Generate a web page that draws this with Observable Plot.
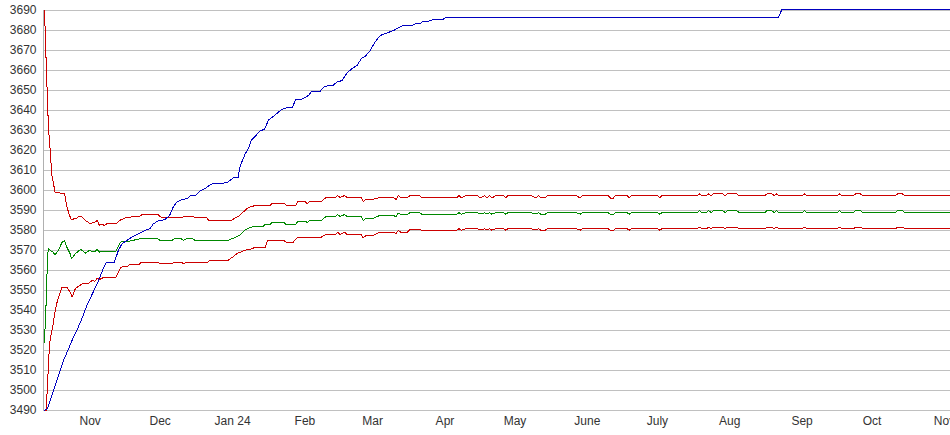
<!DOCTYPE html>
<html>
<head>
<meta charset="utf-8">
<script src="https://cdn.jsdelivr.net/npm/d3@7"></script>
<script src="https://cdn.jsdelivr.net/npm/@observablehq/plot@0.6"></script>
<style>
  html, body { margin: 0; padding: 0; background: #fff; }
  #chart { width: 950px; height: 435px; overflow: hidden; }
</style>
</head>
<body>
<div id="chart"></div>
<script>
// ---------- data ----------
const monthTicks = ["2023-11-01","2023-12-01","2024-01-01","2024-02-01","2024-03-01","2024-04-01","2024-05-01","2024-06-01","2024-07-01","2024-08-01","2024-09-01","2024-10-01","2024-11-01"];
const monthLabels = ["Nov","Dec","Jan 24","Feb","Mar","Apr","May","June","July","Aug","Sep","Oct","Nov"];
const yTicks = [3490,3500,3510,3520,3530,3540,3550,3560,3570,3580,3590,3600,3610,3620,3630,3640,3650,3660,3670,3680,3690];

const blue = [["2023-10-12T07:00",3490],["2023-10-13T04:00",3490.5],["2023-10-13T17:00",3491],["2023-10-14T21:00",3495],["2023-10-16T07:00",3500],["2023-10-18T10:00",3507.5],["2023-10-20T14:00",3515],["2023-10-22T17:00",3520.8],["2023-10-24T20:00",3526.7],["2023-10-26T14:00",3530.8],["2023-10-28T11:00",3536],["2023-10-30T14:00",3542.5],["2023-11-02",3548.5],["2023-11-04T14:00",3555],["2023-11-06T17:00",3561.3],["2023-11-07T22:00",3564],["2023-11-11T07:00",3564],["2023-11-13T02:00",3570],["2023-11-14T14:00",3573.3],["2023-11-16T17:00",3575],["2023-11-18T22:00",3576.7],["2023-11-21",3578],["2023-11-23",3579.2],["2023-11-25",3580.3],["2023-11-26T17:00",3581],["2023-11-28",3583.3],["2023-11-30",3584.7],["2023-12-03",3585.5],["2023-12-05",3587.5],["2023-12-06T14:00",3591.7],["2023-12-08",3594.2],["2023-12-10",3595.3],["2023-12-12T14:00",3596],["2023-12-14",3597.5],["2023-12-16",3597.5],["2023-12-18",3599.7],["2023-12-20",3600.8],["2023-12-22",3602.5],["2023-12-23T17:00",3603.7],["2023-12-28",3603.7],["2023-12-30",3604.2],["2024-01-01T07:00",3606.3],["2024-01-03T10:00",3606.5],["2024-01-03T22:00",3610.8],["2024-01-05T05:00",3615],["2024-01-06T10:00",3618.3],["2024-01-08",3621.5],["2024-01-09",3625],["2024-01-11",3627.5],["2024-01-13",3630],["2024-01-14T17:00",3630.5],["2024-01-16T10:00",3635.3],["2024-01-19",3637.5],["2024-01-21T19:00",3640.3],["2024-01-24",3641.3],["2024-01-26T12:00",3641.3],["2024-01-28",3645.3],["2024-01-31",3645.8],["2024-02-02T12:00",3647.5],["2024-02-04",3649.7],["2024-02-07T14:00",3649.7],["2024-02-09",3651.7],["2024-02-11",3652.5],["2024-02-13",3652.5],["2024-02-14T17:00",3654.2],["2024-02-16T22:00",3655],["2024-02-19",3658.7],["2024-02-21",3660.8],["2024-02-23T07:00",3662.5],["2024-02-25T10:00",3666.3],["2024-02-26T19:00",3667],["2024-02-29",3670],["2024-03-02",3674.2],["2024-03-04T07:00",3677.5],["2024-03-07",3678.7],["2024-03-10",3680],["2024-03-12",3681.3],["2024-03-14",3682.5],["2024-03-18",3682.5],["2024-03-19T07:00",3683.3],["2024-03-21T10:00",3683.3],["2024-03-22T07:00",3684.5],["2024-03-24T19:00",3684.5],["2024-03-26T12:00",3685.3],["2024-03-30T19:00",3685.3],["2024-04-01",3686.3],["2024-08-21T17:00",3686.3],["2024-08-23T07:00",3690.3],["2024-11-04",3690.3]];

const redHiEarly = [["2023-10-12T07:00",3690],["2023-10-12T17:00",3681],["2023-10-13T04:00",3663],["2023-10-13T17:00",3645],["2023-10-14T03:00",3631],["2023-10-14T14:00",3625],["2023-10-14T21:00",3620],["2023-10-15T14:00",3607.5],["2023-10-17",3599],["2023-10-21",3598.5],["2023-10-22",3592],["2023-10-23",3588],["2023-10-24",3585.3],["2023-10-25",3585.8],["2023-10-26",3586],["2023-10-27",3587],["2023-10-28",3587],["2023-10-29",3586.3],["2023-10-30",3585],["2023-10-31",3584.2],["2023-11-01",3583.3],["2023-11-02",3584],["2023-11-03",3584.2],["2023-11-04",3585],["2023-11-05",3582.5],["2023-11-06",3583.3],["2023-11-07",3582.5],["2023-11-08",3583.3],["2023-11-12",3583.3],["2023-11-14",3585.3],["2023-11-16",3586.3],["2023-11-18",3586.3],["2023-11-19",3587],["2023-11-22",3587],["2023-11-23",3587.8],["2023-11-30",3588],["2023-12-01",3587],["2023-12-02",3586.3],["2023-12-10",3586.3],["2023-12-11",3587],["2023-12-15",3587],["2023-12-16",3586.3],["2023-12-21",3586.3],["2023-12-22",3584.8],["2023-12-31",3584.8],["2024-01-01",3585.5],["2024-01-04",3587.5],["2024-01-07",3590.8],["2024-01-09",3592],["2024-01-11",3592.5],["2024-01-17",3592.5],["2024-01-18",3593.7],["2024-01-23",3593.7],["2024-01-24",3592.5],["2024-01-28",3592.5],["2024-01-29",3594.5],["2024-02-01",3594.5],["2024-02-02",3593.5],["2024-02-03",3594.5],["2024-02-08",3594.5],["2024-02-10",3596.5],["2024-02-14",3596.5],["2024-02-15",3597.5],["2024-02-16",3596.5],["2024-02-18",3597.5],["2024-02-19",3596.5],["2024-02-25",3596.5],["2024-02-26",3594.5],["2024-02-27",3595.5],["2024-03-01",3595.5],["2024-03-04",3596.5],["2024-03-10",3596.5],["2024-03-11",3595.5],["2024-03-12",3597.5],["2024-03-13",3596.5],["2024-03-16",3596.5],["2024-03-17",3597.5],["2024-03-21",3597.5]];

const greenEarly = [["2023-10-12T07:00",3524],["2023-10-12T14:00",3529],["2023-10-12T21:00",3537],["2023-10-13T04:00",3545],["2023-10-13T11:00",3557],["2023-10-14",3571],["2023-10-15",3570],["2023-10-16",3569.2],["2023-10-17",3568],["2023-10-18T07:00",3570],["2023-10-20",3574.2],["2023-10-21",3575],["2023-10-22",3571.7],["2023-10-23T10:00",3568.3],["2023-10-24",3565.8],["2023-10-25T14:00",3568.3],["2023-10-27",3569.7],["2023-10-28",3570.5],["2023-10-29",3569.7],["2023-10-30",3568.7],["2023-10-31T14:00",3570],["2023-11-02",3569.5],["2023-11-03",3569.5],["2023-11-04",3570.5],["2023-11-05",3569.2],["2023-11-06",3569.7],["2023-11-12",3569.7],["2023-11-14",3574.2],["2023-11-15",3574.7],["2023-11-18",3574.7],["2023-11-22",3575.8],["2023-11-30",3575.8],["2023-12-01",3575],["2023-12-06",3575],["2023-12-07",3575.8],["2023-12-10",3575.8],["2023-12-11",3575],["2023-12-12",3575.8],["2023-12-15",3575.8],["2023-12-16",3575],["2023-12-30",3575],["2024-01-01",3576],["2024-01-04",3577.5],["2024-01-06",3580],["2024-01-09",3581.7],["2024-01-10",3582],["2024-01-14",3582],["2024-01-15",3583],["2024-01-17",3583],["2024-01-18",3584],["2024-01-23",3584],["2024-01-24",3583],["2024-01-28",3583],["2024-01-29",3584.7],["2024-02-01",3584.7],["2024-02-02",3584],["2024-02-03",3585],["2024-02-08",3585],["2024-02-10",3587],["2024-02-14",3587],["2024-02-15",3588],["2024-02-16",3587],["2024-02-18",3588],["2024-02-19",3587],["2024-02-25",3587],["2024-02-26",3585],["2024-02-27",3586],["2024-03-01",3586],["2024-03-04",3587.5],["2024-03-10",3587.5],["2024-03-11",3586.8],["2024-03-12",3588.7],["2024-03-13",3588],["2024-03-16",3588],["2024-03-17",3589],["2024-03-21",3589]];

const redLoEarly = [["2023-10-12T07:00",3490],["2023-10-13T07:00",3490],["2023-10-13T11:00",3497],["2023-10-14T03:00",3512.5],["2023-10-14T14:00",3523.5],["2023-10-15T07:00",3528.3],["2023-10-16T01:00",3532.5],["2023-10-16T14:00",3536.7],["2023-10-17T11:00",3542.5],["2023-10-18T10:00",3546.7],["2023-10-19T11:00",3550],["2023-10-20",3551.7],["2023-10-22",3551.7],["2023-10-23T10:00",3549.2],["2023-10-24T07:00",3546.7],["2023-10-25T14:00",3550.8],["2023-10-26T21:00",3552],["2023-10-29",3553.7],["2023-10-31",3553.3],["2023-11-02",3555.2],["2023-11-03",3554.5],["2023-11-04",3556.2],["2023-11-05",3555.5],["2023-11-07",3556.7],["2023-11-12",3556.7],["2023-11-14",3561.3],["2023-11-15",3562],["2023-11-17",3562],["2023-11-18",3563],["2023-11-22",3563],["2023-11-23",3564.2],["2023-11-30",3564.2],["2023-12-01",3563.3],["2023-12-06",3563.3],["2023-12-07",3564.2],["2023-12-10",3564.2],["2023-12-11",3563.3],["2023-12-12",3564.2],["2023-12-15",3564.2],["2023-12-16",3563.8],["2023-12-21",3563.8],["2023-12-22",3565],["2023-12-30",3565],["2024-01-01",3566.7],["2024-01-03",3568.5],["2024-01-06",3570],["2024-01-09",3570.8],["2024-01-11",3571.7],["2024-01-15",3571.7],["2024-01-16",3575],["2024-01-23",3575],["2024-01-24",3574.2],["2024-01-27",3574.2],["2024-01-29",3576.7],["2024-02-08",3576.7],["2024-02-10",3578],["2024-02-14",3578],["2024-02-15",3579.2],["2024-02-16",3578],["2024-02-18",3579.2],["2024-02-19",3578],["2024-02-25",3578],["2024-02-26",3576.3],["2024-02-27",3577.3],["2024-03-01",3577.3],["2024-03-04",3579.2],["2024-03-10",3579.2],["2024-03-11",3578.5],["2024-03-12",3580],["2024-03-13",3579.2],["2024-03-16",3579.2],["2024-03-17",3580.5],["2024-03-21",3580.5]];

const lateDates = ["2024-03-22","2024-04-06","2024-04-07","2024-04-08","2024-04-10","2024-04-15","2024-04-16","2024-04-18","2024-04-19","2024-04-20",
  "2024-04-21","2024-04-23","2024-04-26","2024-04-27","2024-04-28","2024-05-08","2024-05-10","2024-05-11","2024-05-12","2024-05-14",
  "2024-05-15","2024-05-27","2024-05-29","2024-05-30","2024-06-10","2024-06-11","2024-06-12","2024-06-13","2024-06-18","2024-06-19",
  "2024-06-20","2024-07-01","2024-07-02","2024-07-03","2024-07-18","2024-07-19","2024-07-20","2024-07-22","2024-07-23","2024-07-24",
  "2024-07-25","2024-07-29","2024-07-30","2024-07-31","2024-08-04","2024-08-05","2024-08-16","2024-08-17","2024-08-19","2024-08-20",
  "2024-08-21","2024-08-22","2024-09-01","2024-09-02","2024-09-03","2024-09-16","2024-09-17","2024-09-18","2024-09-23","2024-09-24",
  "2024-09-26","2024-09-27","2024-10-11","2024-10-12","2024-10-14","2024-10-15","2024-11-04"];
const redHiLate = [3596.3,3596.3,3597.5,3596.3,3597.5,3597.5,3596.3,3597.5,3596.3,3597.5,
  3596.3,3597.5,3597.5,3596.3,3597.5,3597.5,3596.3,3597.5,3596.3,3596.3,
  3597.5,3597.5,3596.3,3597.5,3597.5,3596,3596,3597.5,3597.5,3596.3,
  3597.5,3597.5,3596.3,3597.5,3597.5,3598.3,3597.5,3597.5,3598.3,3597.5,
  3598.3,3598.3,3597.5,3598.3,3598.3,3597.5,3597.5,3598.3,3598.3,3597.5,
  3598.3,3597.5,3597.5,3598.3,3597.5,3597.5,3598.3,3597.5,3597.5,3598.3,
  3598.3,3597.5,3597.5,3598.3,3598.3,3597.5,3597.5];
const greenLate = [3588.2,3588.2,3588.9,3588.2,3588.9,3588.9,3588.2,3588.9,3588.2,3588.9,
  3588.2,3588.9,3588.9,3588.2,3588.9,3588.9,3588.2,3588.9,3588.2,3588.2,
  3588.9,3588.9,3588.2,3588.9,3588.9,3587.8,3587.8,3588.9,3588.9,3588.2,
  3588.9,3588.9,3588.2,3588.9,3588.9,3590,3588.9,3588.9,3590,3588.9,
  3590,3590,3588.9,3590,3590,3588.9,3588.9,3590,3590,3588.9,
  3590,3588.9,3588.9,3590,3588.9,3588.9,3590,3588.9,3588.9,3590,
  3590,3588.9,3588.9,3590,3590,3588.9,3588.9];
const redLoLate = [3580.2,3580.2,3580.9,3580.2,3580.9,3580.9,3580.2,3580.9,3580.2,3580.9,
  3580.2,3580.9,3580.9,3580.2,3580.9,3580.9,3580.2,3580.9,3580.2,3580.2,
  3580.9,3580.9,3580.2,3580.9,3580.9,3579.8,3579.8,3580.9,3580.9,3580.2,
  3580.9,3580.9,3580.2,3580.9,3580.9,3581.7,3580.9,3580.9,3581.7,3580.9,
  3581.7,3581.7,3580.9,3581.7,3581.7,3580.9,3580.9,3581.7,3581.7,3580.9,
  3581.7,3580.9,3580.9,3581.7,3580.9,3580.9,3581.7,3580.9,3580.9,3581.7,
  3581.7,3580.9,3580.9,3581.7,3581.7,3580.9,3580.9];

// ---------- build ----------
const parseT = s => new Date(s.length === 10 ? s + "T00:00:00Z" : s + ":00Z");
const toRows = pairs => pairs.map(([d, v]) => ({date: parseT(d), value: v}));
const withLate = (early, late) => toRows(early.concat(lateDates.map((d, i) => [d, late[i]])));

const blueRows = toRows(blue);
const redHiRows = withLate(redHiEarly, redHiLate);
const greenRows = withLate(greenEarly, greenLate);
const redLoRows = withLate(redLoEarly, redLoLate);

const tickDates = monthTicks.map(parseT);
const labelMap = new Map(tickDates.map((d, i) => [+d, monthLabels[i]]));

const lineOpts = {x: "date", y: "value", strokeWidth: 1, shapeRendering: "crispEdges"};

const chart = Plot.plot({
  width: 950,
  height: 435,
  marginLeft: 43,
  marginRight: 0,
  marginTop: 10,
  marginBottom: 25,
  style: {fontFamily: "'Liberation Sans', Arial, sans-serif", fontSize: "12px", color: "#333", background: "#fff", overflow: "hidden"},
  x: {type: "utc", domain: [parseT("2023-10-12T00:00"), parseT("2024-11-03T14:00")]},
  y: {domain: [3490, 3690]},
  marks: [
    Plot.gridY(yTicks, {stroke: "#c0c0c0", strokeOpacity: 1}),
    Plot.ruleX([parseT("2023-10-12T00:00")], {stroke: "#b0b0b0", y1: 3490, y2: 3690}),
    Plot.axisY(yTicks, {tickSize: 0, tickPadding: 7, tickFormat: d => String(d), fill: "#333", fontSize: 12, label: null}),
    Plot.axisX(tickDates, {tickSize: 0, tickPadding: 6, tickFormat: d => labelMap.get(+d), fill: "#333", fontSize: 12, label: null}),
    Plot.line(redHiRows, {...lineOpts, stroke: "#cc0000"}),
    Plot.line(greenRows, {...lineOpts, stroke: "#008800"}),
    Plot.line(redLoRows, {...lineOpts, stroke: "#cc0000"}),
    Plot.line(blueRows, {...lineOpts, stroke: "#0000c0"})
  ]
});
document.getElementById("chart").appendChild(chart);
</script>
</body>
</html>
